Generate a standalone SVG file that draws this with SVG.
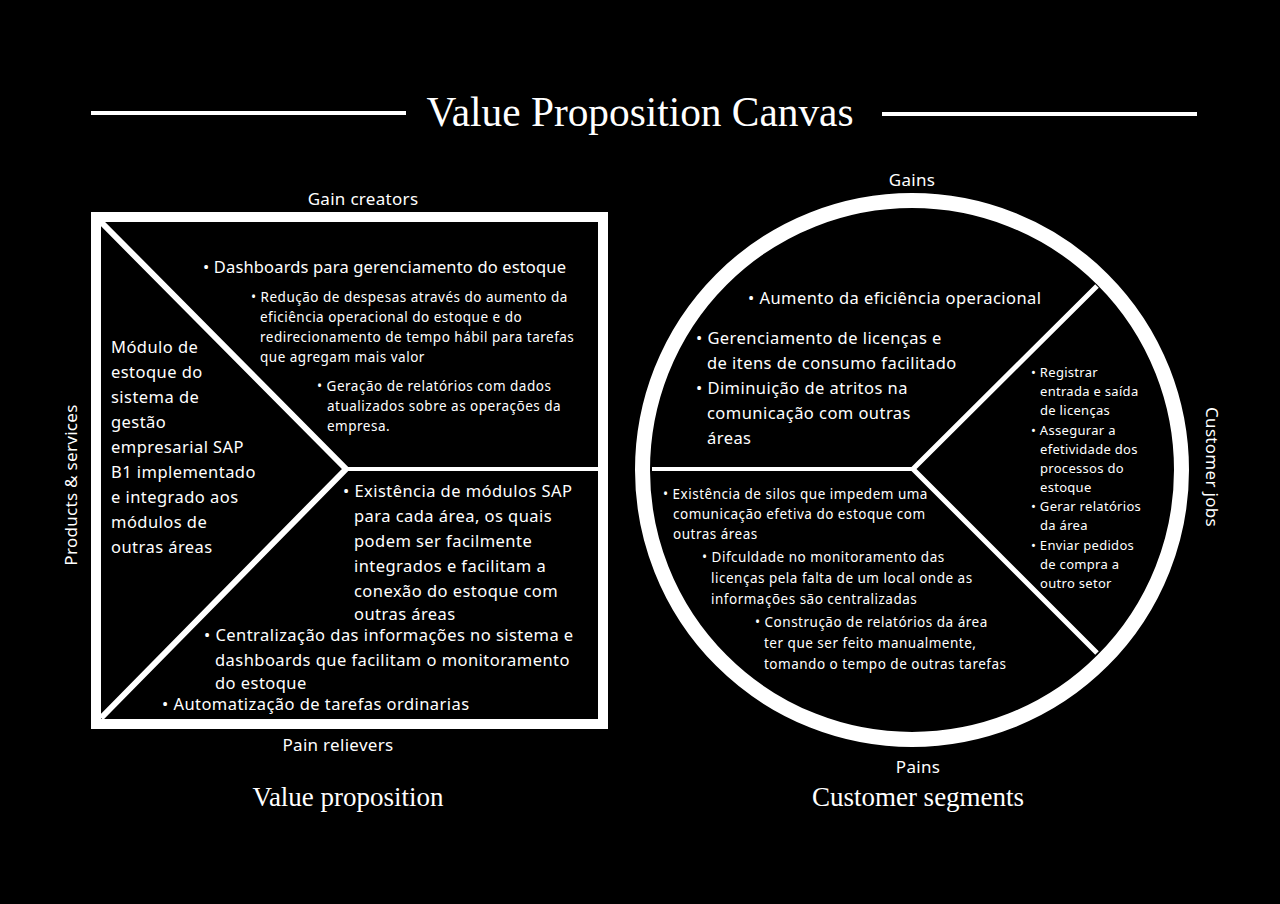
<svg xmlns="http://www.w3.org/2000/svg" width="1280" height="904" viewBox="0 0 1280 904">
<style>
.t{font-family:"Noto Sans","Open Sans",sans-serif;fill:#fff}
.b{font-size:16.5px;letter-spacing:0.45px}
.s{font-size:13.5px;letter-spacing:0.5px}
.m{font-size:13px;letter-spacing:0.3px}
.lab{font-family:"Noto Sans","Open Sans",sans-serif;fill:#fff;font-size:17px;letter-spacing:0.3px}
.ser{font-family:"Liberation Serif",serif;fill:#fff}
.ln{stroke:#fff;fill:none}
</style>
<rect x="0" y="0" width="1280" height="904" fill="#000"/>
<g id="title">
<line class="ln" x1="91" y1="113" x2="406" y2="113" stroke-width="4"/>
<line class="ln" x1="882" y1="114" x2="1197" y2="114" stroke-width="4"/>
<text class="ser" x="640" y="126" font-size="42" text-anchor="middle" textLength="427" lengthAdjust="spacingAndGlyphs">Value Proposition Canvas</text>
</g>
<g id="value-proposition">
<rect x="96" y="217" width="507" height="507" fill="#000" stroke="#fff" stroke-width="10"/>
<text class="lab" x="363" y="205" text-anchor="middle">Gain creators</text>
<text class="lab" x="338" y="751" text-anchor="middle">Pain relievers</text>
<text class="lab" transform="translate(77,485) rotate(-90)" text-anchor="middle">Products &amp; services</text>
<text class="ser" x="348" y="806" font-size="27" text-anchor="middle">Value proposition</text>
</g>
<g id="customer-segment">
<circle cx="912" cy="470" r="269.5" fill="#000" stroke="#fff" stroke-width="15"/>
<text class="lab" x="912" y="186" text-anchor="middle">Gains</text>
<text class="lab" x="918" y="773" text-anchor="middle">Pains</text>
<text class="lab" transform="translate(1206,467) rotate(90)" text-anchor="middle">Customer jobs</text>
<text class="ser" x="918" y="806" font-size="27" text-anchor="middle">Customer segments</text>
</g>
<g id="dividers">
<polyline class="ln" points="101,222 346,469 101,718" stroke-width="6" stroke-linejoin="miter"/>
<line class="ln" x1="346" y1="469" x2="598" y2="469" stroke-width="4"/>
<line class="ln" x1="652" y1="469" x2="913" y2="469" stroke-width="4"/>
<polyline class="ln" points="1097,286 913,469 1097,653" stroke-width="5"/>
</g>
<g id="products-services">
<text class="t b"><tspan x="111" y="353">Módulo de</tspan><tspan x="111" y="378">estoque do</tspan><tspan x="111" y="403">sistema de</tspan><tspan x="111" y="428">gestão</tspan><tspan x="111" y="453">empresarial SAP</tspan><tspan x="111" y="478">B1 implementado</tspan><tspan x="111" y="503">e integrado aos</tspan><tspan x="111" y="528">módulos de</tspan><tspan x="111" y="553">outras áreas</tspan></text>
</g>
<g id="gain-creators">
<text class="t b" x="203" y="273" style="letter-spacing:0.15px">• Dashboards para gerenciamento do estoque</text>
<text class="t s"><tspan x="251" y="302">• Redução de despesas através do aumento da</tspan><tspan x="260" y="322">eficiência operacional  do estoque e do</tspan><tspan x="260" y="342">redirecionamento de tempo hábil para tarefas</tspan><tspan x="260" y="362">que agregam mais valor</tspan></text>
<text class="t s"><tspan x="317" y="391">• Geração de relatórios com dados</tspan><tspan x="327" y="411">atualizados sobre as operações da</tspan><tspan x="327" y="431">empresa.</tspan></text>
</g>
<g id="pain-relievers">
<text class="t b"><tspan x="343" y="497">• Existência de módulos SAP</tspan><tspan x="354" y="522">para cada área, os quais</tspan><tspan x="354" y="547">podem ser facilmente</tspan><tspan x="354" y="572">integrados e facilitam a</tspan><tspan x="354" y="597">conexão do estoque com</tspan><tspan x="354" y="620">outras áreas</tspan></text>
<text class="t b"><tspan x="204" y="641">• Centralização das informações no sistema e</tspan><tspan x="215" y="666">dashboards que facilitam o monitoramento</tspan><tspan x="215" y="689">do estoque</tspan></text>
<text class="t b" x="162" y="710">• Automatização de tarefas ordinarias</text>
</g>
<g id="gains">
<text class="t b" x="748" y="304">• Aumento da eficiência operacional</text>
<text class="t b"><tspan x="696" y="344">• Gerenciamento de licenças e</tspan><tspan x="707" y="369">de itens de consumo facilitado</tspan></text>
<text class="t b"><tspan x="696" y="394">• Diminuição de atritos na</tspan><tspan x="707" y="419">comunicação com outras</tspan><tspan x="707" y="444">áreas</tspan></text>
</g>
<g id="customer-jobs">
<text class="t m"><tspan x="1031" y="377">• Registrar</tspan><tspan x="1040" y="396">entrada e saída</tspan><tspan x="1040" y="415">de licenças</tspan><tspan x="1031" y="435">• Assegurar a</tspan><tspan x="1040" y="454">efetividade dos</tspan><tspan x="1040" y="473">processos do</tspan><tspan x="1040" y="492">estoque</tspan><tspan x="1031" y="511">• Gerar relatórios</tspan><tspan x="1040" y="530">da área</tspan><tspan x="1031" y="550">• Enviar pedidos</tspan><tspan x="1040" y="569">de compra a</tspan><tspan x="1040" y="588">outro setor</tspan></text>
</g>
<g id="pains">
<text class="t s"><tspan x="663" y="499">• Existência de silos que impedem uma</tspan><tspan x="673" y="519">comunicação efetiva do estoque com</tspan><tspan x="673" y="539">outras áreas</tspan></text>
<text class="t s"><tspan x="702" y="562">• Difculdade no monitoramento das</tspan><tspan x="711" y="583">licenças pela falta de um local onde as</tspan><tspan x="711" y="604">informações são centralizadas</tspan></text>
<text class="t s"><tspan x="755" y="627">• Construção de relatórios da área</tspan><tspan x="764" y="648">ter que ser feito manualmente,</tspan><tspan x="764" y="669">tomando o tempo de outras tarefas</tspan></text>
</g>
</svg>
